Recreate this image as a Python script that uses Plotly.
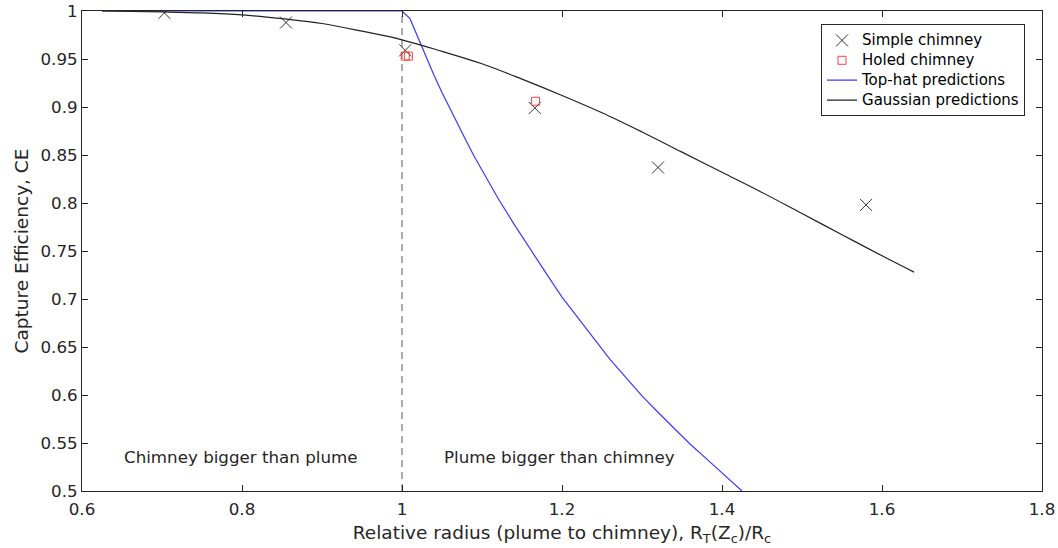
import plotly.graph_objects as go

# Measured points
simple_x = [0.703, 0.855, 1.004, 1.166, 1.320, 1.580]
simple_y = [0.998, 0.988, 0.959, 0.899, 0.837, 0.798]

holed_x = [1.004, 1.008, 1.167]
holed_y = [0.953, 0.953, 0.906]

# Top-hat prediction curve
tophat_x = [0.625, 1.000, 1.010, 1.020, 1.030, 1.040, 1.050, 1.060, 1.070, 1.080,
            1.090, 1.100, 1.120, 1.140, 1.160, 1.180, 1.200, 1.220, 1.240, 1.260,
            1.280, 1.300, 1.320, 1.340, 1.360, 1.380, 1.400, 1.425]
tophat_y = [1.000, 1.000, 0.992, 0.972, 0.952, 0.933, 0.915, 0.898, 0.881, 0.865,
            0.849, 0.834, 0.805, 0.778, 0.752, 0.727, 0.702, 0.680, 0.658, 0.637,
            0.618, 0.599, 0.582, 0.565, 0.549, 0.534, 0.519, 0.500]

# Gaussian prediction curve
gauss_x = [0.625, 0.70, 0.75, 0.80, 0.85, 0.90, 0.95, 1.00, 1.05, 1.10, 1.15,
           1.20, 1.25, 1.30, 1.35, 1.40, 1.45, 1.50, 1.55, 1.60, 1.64]
gauss_y = [1.000, 0.999, 0.998, 0.996, 0.992, 0.987, 0.979, 0.970, 0.958,
           0.945, 0.929, 0.912, 0.894, 0.874, 0.853, 0.832, 0.811, 0.789,
           0.767, 0.745, 0.728]

divider_x = [1.0, 1.0]
divider_y = [0.5, 1.0]

x_ticks = [0.6, 0.8, 1.0, 1.2, 1.4, 1.6, 1.8]
x_ticklabels = ["0.6", "0.8", "1", "1.2", "1.4", "1.6", "1.8"]
y_ticks = [0.5, 0.55, 0.6, 0.65, 0.7, 0.75, 0.8, 0.85, 0.9, 0.95, 1.0]
y_ticklabels = ["0.5", "0.55", "0.6", "0.65", "0.7", "0.75", "0.8", "0.85",
                "0.9", "0.95", "1"]

AX = "#262626"
FONT = "DejaVu Sans"
TICK_SIZE = 16.7
LABEL_SIZE = 18.5


def leg(name):
    return '<span style="font-size:15px">' + name + '</span>'


fig = go.Figure()

fig.add_trace(go.Scatter(x=divider_x, y=divider_y, mode="lines",
                         line=dict(color="#808080", width=1.3, dash="7px,5px"),
                         showlegend=False, hoverinfo="skip"))

fig.add_trace(go.Scatter(x=simple_x, y=simple_y, mode="markers", name=leg("Simple chimney"),
                         marker=dict(symbol="x-thin-open", size=12, color="#333333",
                                     line=dict(width=1, color="#333333"))))
fig.add_trace(go.Scatter(x=holed_x, y=holed_y, mode="markers", name=leg("Holed chimney"),
                         marker=dict(symbol="square-open", size=8, color="#ff4040",
                                     line=dict(width=1, color="#ff4040"))))
fig.add_trace(go.Scatter(x=tophat_x, y=tophat_y, mode="lines", name=leg("Top-hat predictions"),
                         line=dict(color="#3a3aff", width=1.2)))
fig.add_trace(go.Scatter(x=gauss_x, y=gauss_y, mode="lines", name=leg("Gaussian predictions"),
                         line=dict(color="#222222", width=1.2), line_shape="spline"))

fig.add_annotation(x=0.65, y=0.535, xref="x", yref="y", text="Chimney bigger than plume",
                   showarrow=False, xanchor="left", yanchor="middle",
                   font=dict(family=FONT, size=TICK_SIZE, color=AX))
fig.add_annotation(x=1.05, y=0.535, xref="x", yref="y", text="Plume bigger than chimney",
                   showarrow=False, xanchor="left", yanchor="middle",
                   font=dict(family=FONT, size=TICK_SIZE, color=AX))

axis_common = dict(showgrid=False, zeroline=False, showline=True, linecolor=AX,
                   linewidth=1, mirror="ticks", ticks="inside", ticklen=6,
                   tickcolor=AX, tickwidth=1, ticklabeloverflow="allow",
                   tickfont=dict(family=FONT, size=TICK_SIZE, color=AX))

fig.update_xaxes(range=[0.6, 1.8], tickvals=x_ticks, ticktext=x_ticklabels,
                 ticklabelstandoff=3,
                 title=dict(text="Relative radius (plume to chimney), R<sub>T</sub>(Z<sub>c</sub>)/R<sub>c</sub>",
                            font=dict(family=FONT, size=LABEL_SIZE, color=AX), standoff=8),
                 **axis_common)
fig.update_yaxes(range=[0.5, 1.0], tickvals=y_ticks, ticktext=y_ticklabels,
                 title=dict(text="Capture Efficiency, CE",
                            font=dict(family=FONT, size=LABEL_SIZE, color=AX), standoff=7),
                 **axis_common)

fig.update_layout(
    width=1058, height=548,
    margin=dict(l=82, r=16, t=11, b=57, autoexpand=False),
    plot_bgcolor="white", paper_bgcolor="white",
    font=dict(family=FONT, size=TICK_SIZE, color=AX),
    legend=dict(x=0.9823, y=0.972, xanchor="right", yanchor="top",
                bordercolor=AX, borderwidth=1, bgcolor="white",
                font=dict(family=FONT, size=13, color="#000000"),
                itemwidth=30, tracegroupgap=0),
)

fig.write_html("out.html", config={"displayModeBar": False},
               post_script="document.body.style.margin='0';document.body.style.overflow='hidden';")
